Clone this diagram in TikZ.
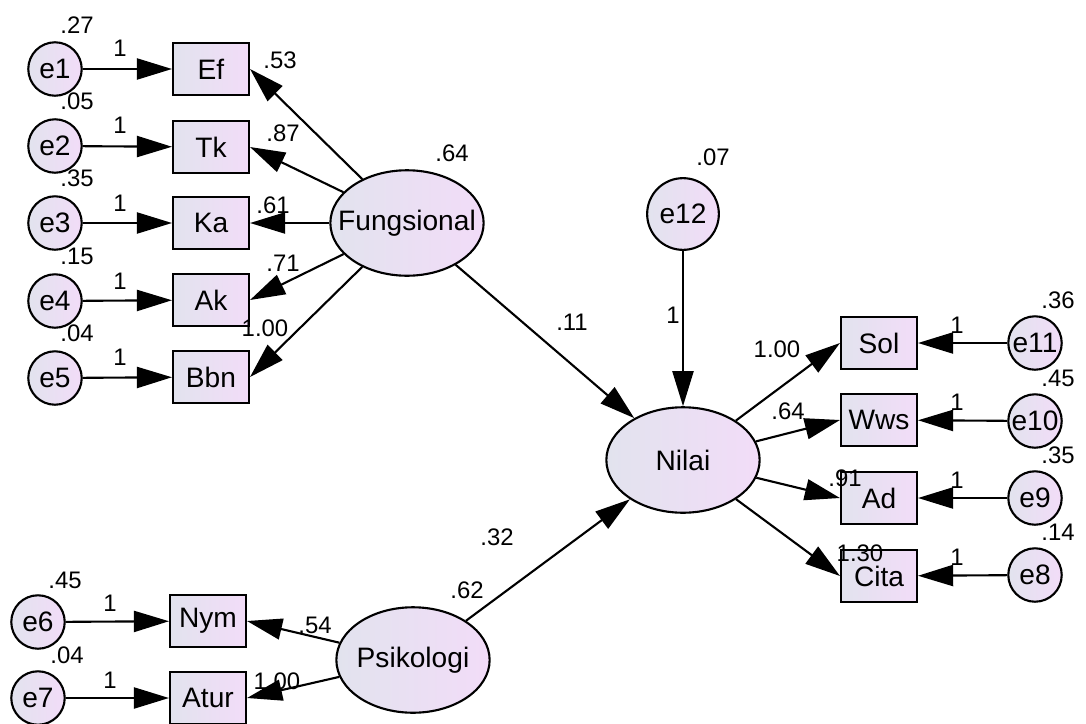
\documentclass[tikz,border=0pt]{standalone}
\usepackage{fontspec}
\setmainfont{Liberation Sans}
\usetikzlibrary{arrows.meta,shapes.geometric}
\definecolor{fillleft}{RGB}{226,227,238}
\definecolor{fillright}{RGB}{242,220,248}

\begin{document}
\begin{tikzpicture}[x=0.025cm,y=-0.025cm,line width=1.5pt,
		>={Triangle[length=25pt,width=15pt]},
		every node/.style={font=\fontsize{20}{23}\selectfont},
		obsbox/.style={rectangle,draw,inner sep=0pt,minimum width=54pt,
			minimum height=37pt,left color=fillleft,right color=fillright},
		latent/.style={ellipse,draw,inner xsep=-12pt,inner ysep=0pt,
			minimum width=109pt,minimum height=75pt,left color=fillleft,
			right color=fillright},
		errcirc/.style={circle,draw,inner sep=0pt,minimum size=38pt,
			left color=fillleft,right color=fillright},
		val/.style={inner sep=0pt,font=\fontsize{17}{17}\selectfont}]
		\useasboundingbox (0,0) rectangle (1086,724);
		% create the nodes
		\node[latent] (fungsional) at (407,223) {Fungsional};
		\node[latent] (psikologi) at (413,660) {Psikologi};
		\node[latent] (nilai) at (683,460) {Nilai};
		\node[errcirc,minimum size=51pt] (e12) at (683,214) {e12};

		\node[obsbox] (ef) at (211,69) {Ef};
		\node[obsbox] (tk) at (211,147) {Tk};
		\node[obsbox] (ka) at (211,223) {Ka};
		\node[obsbox] (ak) at (211,300) {Ak};
		\node[obsbox] (bbn) at (211,377) {Bbn};
		\node[obsbox] (nym) at (208,621) {Nym};
		\node[obsbox] (atur) at (208,698) {Atur};
		\node[obsbox] (sol) at (879,343) {Sol};
		\node[obsbox] (wws) at (879,420) {Wws};
		\node[obsbox] (ad) at (879,498) {Ad};
		\node[obsbox] (cita) at (879,576) {Cita};

		\node[errcirc] (e1) at (55,69) {e1};
		\node[errcirc] (e2) at (55,146) {e2};
		\node[errcirc] (e3) at (55,223) {e3};
		\node[errcirc] (e4) at (55,301) {e4};
		\node[errcirc] (e5) at (55,378) {e5};
		\node[errcirc] (e6) at (38,622) {e6};
		\node[errcirc] (e7) at (38,698) {e7};
		\node[errcirc] (e11) at (1035,343) {e11};
		\node[errcirc] (e10) at (1035,421) {e10};
		\node[errcirc] (e9) at (1035,498) {e9};
		\node[errcirc] (e8) at (1035,575) {e8};

		% connect the nodes
		\draw[->] (e1) -- (ef);
		\draw[->] (e2) -- (tk);
		\draw[->] (e3) -- (ka);
		\draw[->] (e4) -- (ak);
		\draw[->] (e5) -- (bbn);
		\draw[->] (e6) -- (nym);
		\draw[->] (e7) -- (atur);
		\draw[->] (e11) -- (sol);
		\draw[->] (e10) -- (wws);
		\draw[->] (e9) -- (ad);
		\draw[->] (e8) -- (cita);

		\draw[->] (fungsional) -- (ef.east);
		\draw[->] (fungsional) -- (tk.east);
		\draw[->] (fungsional) -- (ka.east);
		\draw[->] (fungsional) -- (ak.east);
		\draw[->] (fungsional) -- (bbn.east);
		\draw[->] (psikologi) -- (nym.east);
		\draw[->] (psikologi) -- (atur.east);
		\draw[->] (nilai) -- (sol.west);
		\draw[->] (nilai) -- (wws.west);
		\draw[->] (nilai) -- (ad.west);
		\draw[->] (nilai) -- (cita.west);
		\draw[->] (fungsional) -- (nilai);
		\draw[->] (psikologi) -- (nilai);
		\draw[->] (e12) -- (nilai);

		% estimates
		\node[val] (v1) at (77,25) {.27};
		\node[val] (v2) at (77,101) {.05};
		\node[val] (v3) at (77,178) {.35};
		\node[val] (v4) at (77,256) {.15};
		\node[val] (v5) at (77,333) {.04};
		\node[val] (w1) at (120,48) {1};
		\node[val] (w2) at (120,125) {1};
		\node[val] (w3) at (120,203) {1};
		\node[val] (w4) at (120,281) {1};
		\node[val] (w5) at (120,357) {1};
		\node[val] (l1) at (280,60) {.53};
		\node[val] (l2) at (283,133) {.87};
		\node[val] (l3) at (273,205) {.61};
		\node[val] (l4) at (283,263) {.71};
		\node[val] (l5) at (265,328) {1.00};
		\node[val] (vf) at (452,153) {.64};
		\node[val] (vn) at (713,157) {.07};
		\node[val] (gf) at (572,322) {.11};
		\node[val] (we12) at (673,315) {1};
		\node[val] (gp) at (497,537) {.32};
		\node[val] (vp) at (467,590) {.62};
		\node[val] (v6) at (65,580) {.45};
		\node[val] (v7) at (67,655) {.04};
		\node[val] (w6) at (110,603) {1};
		\node[val] (w7) at (110,680) {1};
		\node[val] (l6) at (315,625) {.54};
		\node[val] (l7) at (277,681) {1.00};
		\node[val] (r1) at (777,349) {1.00};
		\node[val] (r2) at (788,411) {.64};
		\node[val] (r3) at (845,478) {.91};
		\node[val] (r4) at (860,553) {1.30};
		\node[val] (v11) at (1058,300) {.36};
		\node[val] (v10) at (1058,378) {.45};
		\node[val] (v9) at (1058,455) {.35};
		\node[val] (v8) at (1058,532) {.14};
		\node[val] (w11) at (957,325) {1};
		\node[val] (w10) at (957,402) {1};
		\node[val] (w9) at (957,480) {1};
		\node[val] (w8) at (957,557) {1};

	\end{tikzpicture}
\end{document}
